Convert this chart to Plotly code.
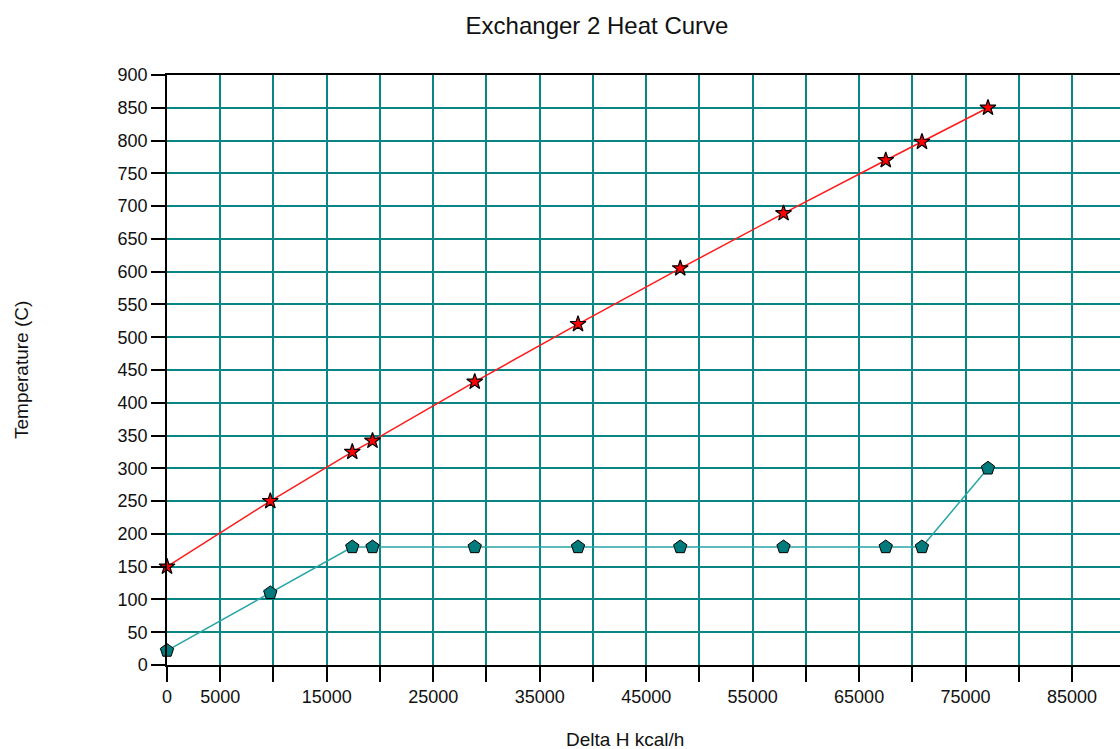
import plotly.graph_objects as go

# Data
hot_dh = [0, 9700, 17400, 19300, 28900, 38600, 48200, 57900, 67500, 70900, 77100]
hot_t = [150, 250, 325, 342, 432, 520, 605, 689, 770, 798, 850]

cold_dh = [0, 9700, 17400, 19300, 28900, 38600, 48200, 57900, 67500, 70900, 77100]
cold_t = [22, 110, 180, 180, 180, 180, 180, 180, 180, 180, 300]

x_tickvals = list(range(0, 90000, 5000))
x_ticktext = ["0", "5000", "", "15000", "", "25000", "", "35000", "", "45000", "",
              "55000", "", "65000", "", "75000", "", "85000"]
y_tickvals = list(range(0, 901, 50))

FONT = "Liberation Sans, Arial, sans-serif"
GRID = "#0a8585"

fig = go.Figure()
fig.add_trace(go.Scatter(
    x=cold_dh, y=cold_t, mode="lines+markers",
    line=dict(color="#2aa5a5", width=1.5),
    marker=dict(symbol="pentagon", size=14, color="#007a7a",
                line=dict(color="black", width=1)),
    showlegend=False, cliponaxis=False))
fig.add_trace(go.Scatter(
    x=hot_dh, y=hot_t, mode="lines+markers",
    line=dict(color="#ff1a1a", width=1.5),
    marker=dict(symbol="star", size=12, color="#ff0000",
                line=dict(color="black", width=1.2)),
    showlegend=False, cliponaxis=False))

fig.update_layout(
    width=1120, height=749,
    margin=dict(l=167, r=0, t=75, b=84),
    paper_bgcolor="white", plot_bgcolor="white",
    font=dict(family=FONT, size=18, color="#111111"),
    title=dict(text="Exchanger 2 Heat Curve", x=597/1120, xanchor="center",
               y=1-26/749, yanchor="middle",
               font=dict(family=FONT, size=24, color="#111111")),
    xaxis=dict(range=[0, 89500], tickmode="array", tickvals=x_tickvals,
               ticktext=x_ticktext, showgrid=True, gridcolor=GRID, gridwidth=1.5,
               showline=True, linecolor="black", linewidth=1.5, mirror=True,
               ticks="outside", ticklen=15, tickwidth=1.5, tickcolor="black",
               zeroline=False, tickfont=dict(size=18)),
    yaxis=dict(range=[0, 900], tickmode="array", tickvals=y_tickvals,
               showgrid=True, gridcolor=GRID, gridwidth=1.5,
               showline=True, linecolor="black", linewidth=1.5, mirror=False,
               ticks="outside", ticklen=14, tickwidth=1.5, tickcolor="black",
               zeroline=False, tickfont=dict(size=18)),
    annotations=[
        dict(text="Delta H kcal/h", xref="paper", yref="paper",
             x=(625-167)/953, y=(665-739)/590, xanchor="center", yanchor="middle",
             showarrow=False, font=dict(family=FONT, size=19, color="#111111")),
        dict(text="Temperature (C)", xref="paper", yref="paper",
             x=(21-167)/953, y=(665-370)/590, xanchor="center", yanchor="middle",
             textangle=-90, showarrow=False,
             font=dict(family=FONT, size=19, color="#111111")),
    ],
)

fig.write_html("out.html")
